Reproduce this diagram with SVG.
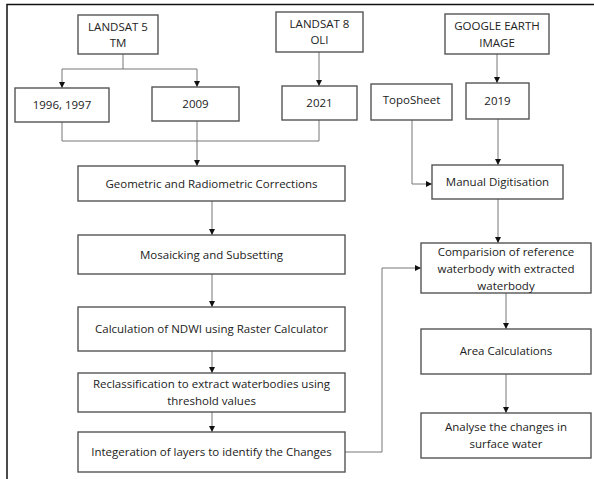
<svg xmlns="http://www.w3.org/2000/svg" width="594" height="479" viewBox="0 0 594 479">
<style>
.box{fill:#fff;stroke:#555;stroke-width:1.4}
.t{font-family:"Open Sans","Liberation Sans",sans-serif;font-size:11.5px;fill:#222;text-anchor:middle}
.c{fill:none;stroke:#777;stroke-width:1}
.ca{fill:none;stroke:#777;stroke-width:1;marker-end:url(#ah)}
</style>
<defs>
<marker id="ah" viewBox="0 0 8 8" refX="8" refY="4" markerWidth="6" markerHeight="6" markerUnits="userSpaceOnUse" orient="auto">
<path d="M0,0 L8,4 L0,8 z" fill="#111"/>
</marker>
</defs>
<rect width="594" height="479" fill="#fff"/>
<path d="M7,479 V4.5 H594" fill="none" stroke="#111" stroke-width="1.5"/>
<g id="connectors">
<path class="c" d="M123,54 V69"/>
<path class="c" d="M62,69 H197"/>
<path class="ca" d="M62,69 V88"/>
<path class="ca" d="M197,69 V87"/>
<path class="ca" d="M319,52 V86"/>
<path class="ca" d="M497,54 V83"/>
<path class="c" d="M62,122 V141 H319 V120"/>
<path class="ca" d="M197,121 V166"/>
<path class="ca" d="M212,201 V235"/>
<path class="ca" d="M212,274 V307"/>
<path class="ca" d="M212,351 V373"/>
<path class="ca" d="M212,412 V432"/>
<path class="ca" d="M412,120 V184 H432"/>
<path class="ca" d="M498,119 V165"/>
<path class="ca" d="M498,199 V243"/>
<path class="ca" d="M345,452 H382 V268 H421"/>
<path class="ca" d="M506,293 V329"/>
<path class="ca" d="M506,374 V413"/>
</g>
<g id="landsat5"><rect class="box" x="78" y="15" width="80" height="39"/><text class="t" x="118" y="31">LANDSAT 5</text><text class="t" x="118" y="47">TM</text></g>
<g id="landsat8"><rect class="box" x="276" y="12" width="87" height="40"/><text class="t" x="319.5" y="28">LANDSAT 8</text><text class="t" x="319.5" y="44">OLI</text></g>
<g id="google"><rect class="box" x="445" y="14" width="104" height="40"/><text class="t" x="497" y="30">GOOGLE EARTH</text><text class="t" x="497" y="47">IMAGE</text></g>
<g id="y1996"><rect class="box" x="15" y="88" width="94" height="34"/><text class="t" x="62" y="109">1996, 1997</text></g>
<g id="y2009"><rect class="box" x="152" y="87" width="87" height="34"/><text class="t" x="195.5" y="108">2009</text></g>
<g id="y2021"><rect class="box" x="282" y="86" width="75" height="34"/><text class="t" x="319.5" y="107">2021</text></g>
<g id="toposheet"><rect class="box" x="371" y="84" width="81" height="36"/><text class="t" x="411.5" y="104">TopoSheet</text></g>
<g id="y2019"><rect class="box" x="466" y="83" width="63" height="36"/><text class="t" x="497.5" y="105">2019</text></g>
<g id="geometric"><rect class="box" x="78" y="166" width="267" height="35"/><text class="t" x="211.5" y="188">Geometric and Radiometric Corrections</text></g>
<g id="mosaic"><rect class="box" x="78" y="235" width="267" height="39"/><text class="t" x="211.5" y="259">Mosaicking and Subsetting</text></g>
<g id="ndwi"><rect class="box" x="78" y="307" width="267" height="44"/><text class="t" x="211.5" y="333">Calculation of NDWI using Raster Calculator</text></g>
<g id="reclass"><rect class="box" x="78" y="373" width="267" height="39"/><text class="t" x="211.5" y="388">Reclassification to extract waterbodies using</text><text class="t" x="211.5" y="405">threshold values</text></g>
<g id="integration"><rect class="box" x="78" y="432" width="267" height="40"/><text class="t" x="211.5" y="456">Integeration of layers to identify the Changes</text></g>
<g id="manual"><rect class="box" x="432" y="165" width="131" height="34"/><text class="t" x="497.5" y="186">Manual Digitisation</text></g>
<g id="comparison"><rect class="box" x="421" y="243" width="170" height="50"/><text class="t" x="506" y="256">Comparision of reference</text><text class="t" x="506" y="273">waterbody with extracted</text><text class="t" x="506" y="290">waterbody</text></g>
<g id="area"><rect class="box" x="421" y="329" width="170" height="45"/><text class="t" x="506" y="355">Area Calculations</text></g>
<g id="analyse"><rect class="box" x="421" y="413" width="170" height="45"/><text class="t" x="506" y="431">Analyse the changes in</text><text class="t" x="506" y="448">surface water</text></g>
</svg>
